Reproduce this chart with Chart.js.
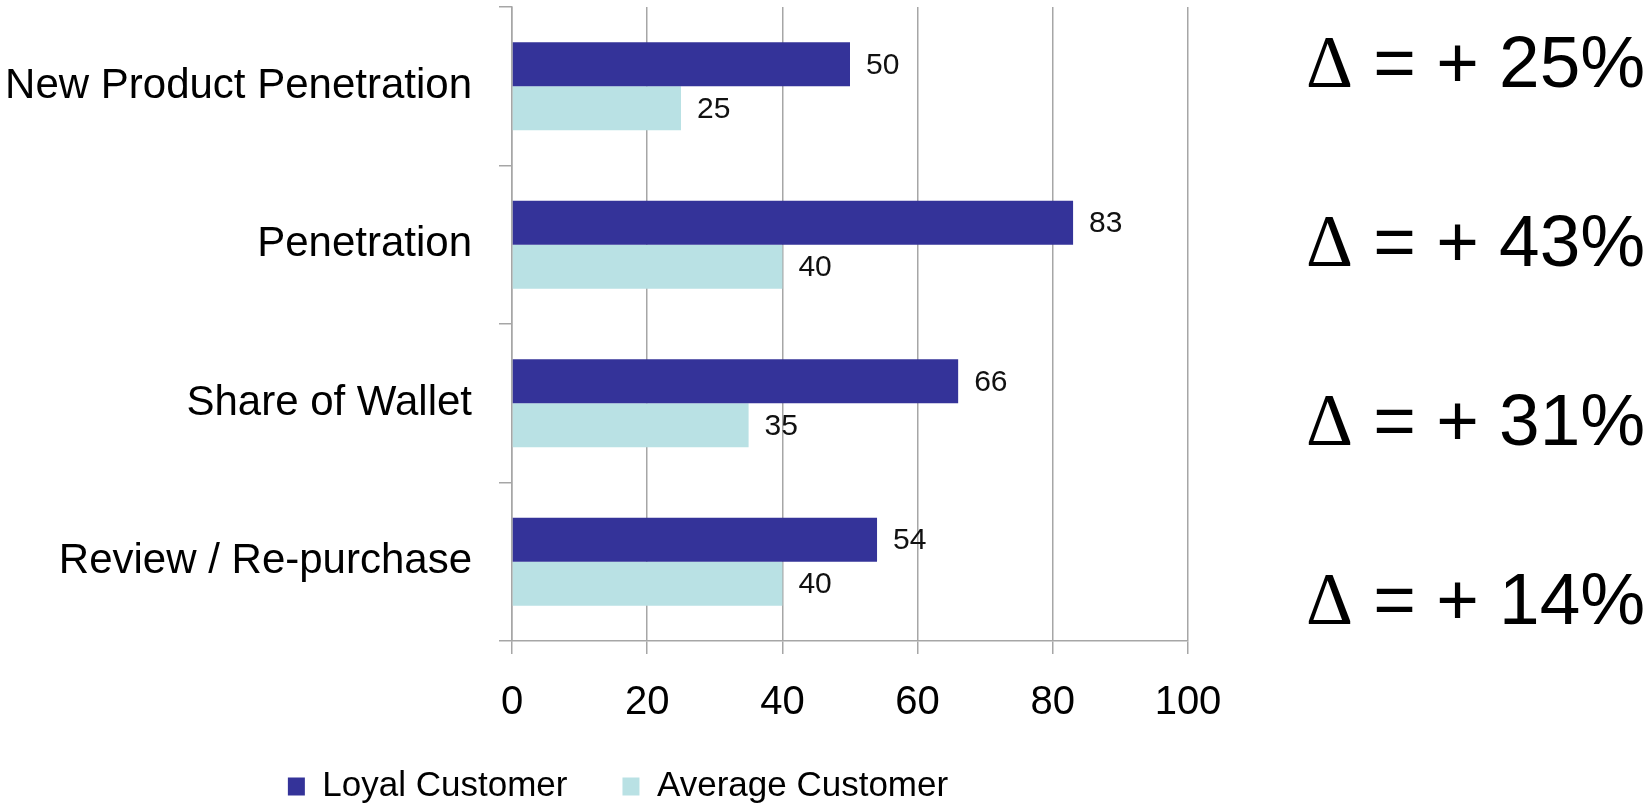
<!DOCTYPE html>
<html>
<head>
<meta charset="utf-8">
<script src="https://cdn.jsdelivr.net/npm/chart.js@4"></script>
<style>
  body { margin: 0; background: #fff; }
  #wrap { position: relative; width: 1648px; height: 806px; }
  #chartBox { position: absolute; left: 0; top: 0; width: 1236px; height: 806px; }
  .delta {
    position: absolute; left: 1306px; font-family: "Liberation Sans", Arial, sans-serif;
    font-size: 73px; line-height: 1; color: #000; white-space: pre;
  }
  .delta .sym { font-family: "Liberation Serif", "Times New Roman", serif; }
</style>
</head>
<body>
<div id="wrap">
  <div id="chartBox"><canvas id="chart"></canvas></div>
</div>
<script>
const categories = ["New Product Penetration", "Penetration", "Share of Wallet", "Review / Re-purchase"];
const loyalValues = [50, 83, 66, 54];
const averageValues = [25, 40, 35, 40];
const seriesNames = ["Loyal Customer", "Average Customer"];
const xTicks = [0, 20, 40, 60, 80, 100];

const loyalColor = "#343399";
const averageColor = "#b9e1e4";
const gridColor = "#a6a6a6";

Chart.defaults.font.family = "'Liberation Sans', Arial, sans-serif";
Chart.defaults.color = "#000";

// value labels at the end of each bar
const valueLabels = {
  id: "valueLabels",
  afterDatasetsDraw(chart) {
    const ctx = chart.ctx;
    ctx.save();
    ctx.font = "30px 'Liberation Sans', Arial, sans-serif";
    ctx.fillStyle = "#111";
    ctx.textAlign = "left";
    ctx.textBaseline = "middle";
    chart.data.datasets.forEach((ds, i) => {
      chart.getDatasetMeta(i).data.forEach((bar, j) => {
        ctx.fillText(ds.data[j], bar.x + 16, bar.y + 1);
      });
    });
    ctx.restore();
  }
};

// the legend sits a bit right of the full-width centre
const legendShift = {
  id: "legendShift",
  afterLayout(chart) {
    chart.legend.left += 24;
    chart.legend.right += 24;
  }
};

new Chart(document.getElementById("chart"), {
  type: "bar",
  data: {
    labels: categories,
    datasets: [
      { label: seriesNames[0], data: loyalValues, backgroundColor: loyalColor },
      { label: seriesNames[1], data: averageValues, backgroundColor: averageColor }
    ]
  },
  options: {
    indexAxis: "y",
    responsive: true,
    maintainAspectRatio: false,
    animation: false,
    layout: { padding: { top: 7, left: 0, right: 48, bottom: -8 } },
    datasets: { bar: { barPercentage: 1, categoryPercentage: 0.555 } },
    scales: {
      x: {
        min: 0,
        max: 100,
        afterBuildTicks: s => { s.ticks = xTicks.map(v => ({ value: v })); },
        afterFit: s => { s.height = 73; s.paddingLeft = 0; s.paddingRight = 0; },
        ticks: { font: { size: 40 }, color: "#000", padding: 25 },
        grid: { color: gridColor, lineWidth: 1.5, tickLength: 13 },
        border: { color: gridColor, width: 1.5 }
      },
      y: {
        afterFit: s => { s.width = 512; s.paddingTop = 0; s.paddingBottom = 0; },
        ticks: { font: { size: 42 }, color: "#000", padding: 27 },
        grid: { drawOnChartArea: false, color: gridColor, lineWidth: 1.5, tickLength: 13 },
        border: { color: gridColor, width: 1.5 }
      }
    },
    plugins: {
      legend: {
        position: "bottom",
        labels: { boxWidth: 17, boxHeight: 18, padding: 55, font: { size: 35 }, color: "#000" }
      },
      tooltip: { enabled: false }
    }
  },
  plugins: [valueLabels, legendShift]
});

// delta text on the right, computed from the two series
const wrap = document.getElementById("wrap");
loyalValues.forEach((v, i) => {
  const d = document.createElement("div");
  d.className = "delta";
  d.style.top = (25 + i * 179) + "px";
  d.innerHTML = '<span class="sym">\u0394</span> = + ' + (v - averageValues[i]) + "%";
  wrap.appendChild(d);
});
</script>
</body>
</html>
